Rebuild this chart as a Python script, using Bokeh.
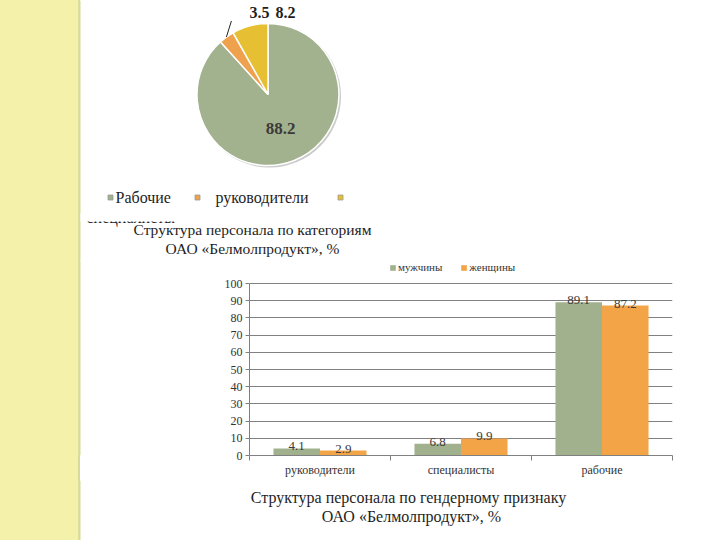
import numpy as np
from bokeh.plotting import figure
from bokeh.layouts import column, row
from bokeh.models import Range1d, FixedTicker, Legend, LegendItem, ColumnDataSource, Spacer
from bokeh.embed import file_html
from bokeh.resources import INLINE
from bokeh.core.properties import value

# ---------------- data ----------------
pie_labels = ["Рабочие", "руководители", "специалисты"]
pie_values = [88.2, 3.5, 8.2]
pie_colors = ["#A2B18E", "#EFA24D", "#E6BF33"]

bar_categories = ["руководители", "специалисты", "рабочие"]
men = [4.1, 6.8, 89.1]
women = [2.9, 9.9, 87.2]
series_names = ["мужчины", "женщины"]
bar_colors = ["#A1B18D", "#F3A446"]
y_ticks = [0, 10, 20, 30, 40, 50, 60, 70, 80, 90, 100]

title1 = ["Структура персонала по категориям", "ОАО «Белмолпродукт», %"]
title2 = ["Структура персонала по гендерному признаку", "ОАО «Белмолпродукт», %"]

SERIF = "Liberation Serif"
STRIP = "#F3F1AA"
STRIP_EDGE = "#D7DA9A"
TXT = "#1e1e1e"

TOP_H = 260          # height of the pie panel
MID_H = 480 - TOP_H  # height of the bar-chart row
BOT_H = 60


def blank(width, height, y0, y1, x0=0, x1=None):
    if x1 is None:
        x1 = x0 + width
    f = figure(width=width, height=height, x_range=Range1d(x0, x1), y_range=Range1d(y0, y1),
               output_backend="svg", toolbar_location=None, x_axis_type=None, y_axis_type=None,
               min_border=0, outline_line_color=None)
    f.grid.visible = False
    f.border_fill_alpha = 0
    f.background_fill_alpha = 0
    return f


def strip(f, y0, y1):
    f.quad(left=0, right=78, bottom=y0, top=y1, fill_color=STRIP, line_color=None)
    f.segment(x0=79, x1=79, y0=y0, y1=y1, line_color=STRIP_EDGE, line_width=2)


# ---------------- top: pie ----------------
top = blank(720, TOP_H, -TOP_H, 0)
strip(top, -TOP_H, 0)

cx, cy, R = 267.5, -94.0, 71.0
fr = np.array(pie_values) / sum(pie_values)
ends = np.pi / 2 - 2 * np.pi * np.cumsum(fr)
starts = np.concatenate([[np.pi / 2], ends[:-1]])
src = ColumnDataSource(dict(start=starts, end=ends, color=pie_colors, label=pie_labels))

top.circle(x=cx + 1.5, y=cy - 1.5, radius=R + 0.5, fill_color="#bdbdbd", line_color=None, fill_alpha=0.8)
top.wedge(x=cx, y=cy, radius=R, start_angle="start", end_angle="end", direction="clock",
          fill_color="color", line_color="white", line_width=1.5, source=src)

# data labels
top.text(x=[280], y=[-128], text=[f"{pie_values[0]}"], text_font=value(SERIF), text_font_style="bold",
         text_font_size="17px", text_color="#3a3a3a", text_align="center", text_baseline="middle")
top.text(x=[259, 285], y=[-12, -12], text=[f"{pie_values[1]}", f"{pie_values[2]}"], text_font=value(SERIF),
         text_font_style="bold", text_font_size="16px", text_color="#1e1e1e", text_align="center",
         text_baseline="middle")
mid = (starts[1] + ends[1]) / 2
top.line(x=[cx + R * np.cos(mid), cx + R * np.cos(mid) + 5], y=[cy + R * np.sin(mid), cy + R * np.sin(mid) + 16],
         line_color="#222222", line_width=1)

# pie legend
top.scatter(x=[110, 197, 340], y=[-197, -197, -197], marker="square", size=5,
            fill_color=pie_colors, line_color="#9a9a9a", line_width=0.8)
top.text(x=[115, 215], y=[-197, -197], text=pie_labels[:2], text_font=value(SERIF), text_font_size="16px",
         text_color=TXT, text_align="left", text_baseline="middle")
top.text(x=[86], y=[-217], text=[pie_labels[2]], text_font=value(SERIF), text_font_size="16px",
         text_color=TXT, text_align="left", text_baseline="alphabetic")
top.quad(left=80, right=200, bottom=-221, top=-212.5, fill_color="white", line_color=None)

# caption 1
top.text(x=[252, 252], y=[-229, -248], text=title1, text_font=value(SERIF), text_font_size="15.5px",
         text_color=TXT, text_align="center", text_baseline="middle")

# ---------------- middle: bar chart ----------------
left = blank(200, MID_H, -480, -TOP_H)
strip(left, -480, -TOP_H)

# frame: (MID_H-25) px tall; 0..100 spans 172 px, the rest is room for the legend
frame_h = MID_H - 25
bar = figure(width=480, height=MID_H, x_range=Range1d(0, 3), y_range=Range1d(0, 100 * frame_h / 172),
             output_backend="svg", toolbar_location=None, min_border_left=49, min_border_right=8,
             min_border_top=0, min_border_bottom=25, outline_line_color=None)
xs = np.arange(len(bar_categories)) + 0.5
bw = 0.33
r1 = bar.vbar(x=xs - bw / 2, top=men, width=bw, fill_color=bar_colors[0], line_color=None)
r2 = bar.vbar(x=xs + bw / 2, top=women, width=bw, fill_color=bar_colors[1], line_color=None)
bar.text(x=xs - bw / 2, y=men, text=[f"{v}" for v in men], text_font=value(SERIF), text_font_size="13px",
         text_color="#3a3a3a", text_align="center", text_baseline="alphabetic", y_offset=-2)
bar.text(x=xs + bw / 2, y=women, text=[f"{v}" for v in women], text_font=value(SERIF), text_font_size="13px",
         text_color="#3a3a3a", text_align="center", text_baseline="alphabetic", y_offset=-2)

bar.yaxis.ticker = FixedTicker(ticks=y_ticks)
bar.yaxis.bounds = (0, 100)
bar.yaxis.minor_tick_line_color = None
bar.yaxis.major_tick_out = 4
bar.yaxis.major_tick_in = 0
bar.yaxis.axis_line_color = "#808080"
bar.yaxis.major_tick_line_color = "#808080"
bar.yaxis.major_label_text_font = SERIF
bar.yaxis.major_label_text_font_size = "12px"
bar.yaxis.major_label_text_color = "#333333"
bar.yaxis.major_label_standoff = 3

bar.xaxis.ticker = FixedTicker(ticks=[float(v) for v in xs], minor_ticks=[0, 1, 2, 3])
bar.xaxis.major_label_overrides = {float(x): c for x, c in zip(xs, bar_categories)}
bar.xaxis.major_tick_out = 0
bar.xaxis.major_tick_in = 0
bar.xaxis.minor_tick_out = 5
bar.xaxis.minor_tick_in = 0
bar.xaxis.minor_tick_line_color = "#808080"
bar.xaxis.axis_line_color = "#808080"
bar.xaxis.major_label_text_font = SERIF
bar.xaxis.major_label_text_font_size = "12px"
bar.xaxis.major_label_text_color = "#333333"
bar.xaxis.major_label_standoff = 2

bar.xgrid.visible = False
bar.ygrid.grid_line_color = "#808080"

leg = Legend(items=[LegendItem(label=series_names[0], renderers=[r1]),
                    LegendItem(label=series_names[1], renderers=[r2])],
             orientation="horizontal", location=(140, 182), label_text_font=SERIF,
             label_text_font_size="11px", label_text_color="#333333", glyph_width=7, glyph_height=7,
             label_standoff=2, spacing=18, padding=0, margin=0, border_line_color=None,
             background_fill_alpha=0, label_height=11)
bar.add_layout(leg)

mid_row = row(left, bar, Spacer(width=40, height=MID_H))

# ---------------- bottom: caption 2 ----------------
bottom = blank(720, BOT_H, -540, -480)
strip(bottom, -540, -480)
bottom.text(x=[408, 411], y=[-497, -516], text=title2, text_font=value(SERIF), text_font_size="16px",
            text_color=TXT, text_align="center", text_baseline="middle")

page = column(top, mid_row, bottom,
              styles={"background-image": "linear-gradient(to right, %s 0px, %s 78px, %s 78px, %s 80px, #ffffff 80px)"
                                          % (STRIP, STRIP, STRIP_EDGE, STRIP_EDGE)})
open("out.html", "w").write(file_html(page, INLINE))
